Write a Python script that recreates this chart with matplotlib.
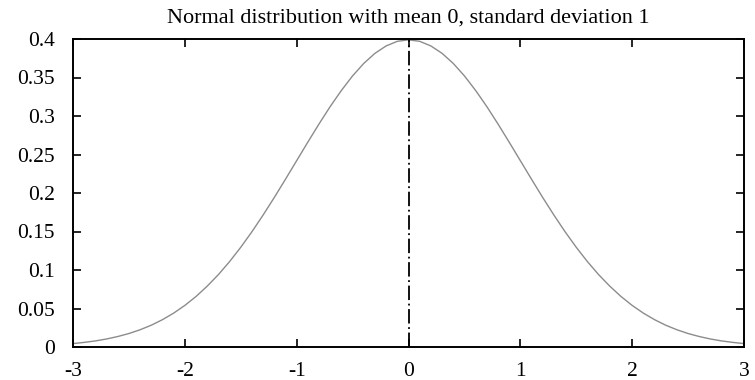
import matplotlib
matplotlib.use("Agg")
import matplotlib.pyplot as plt

# values (x step 0.1)
x_vals = [-3.0, -2.9, -2.8, -2.7, -2.6, -2.5, -2.4, -2.3, -2.2, -2.1, -2.0,
          -1.9, -1.8, -1.7, -1.6, -1.5, -1.4, -1.3, -1.2, -1.1, -1.0,
          -0.9, -0.8, -0.7, -0.6, -0.5, -0.4, -0.3, -0.2, -0.1, 0.0,
          0.1, 0.2, 0.3, 0.4, 0.5, 0.6, 0.7, 0.8, 0.9, 1.0,
          1.1, 1.2, 1.3, 1.4, 1.5, 1.6, 1.7, 1.8, 1.9, 2.0,
          2.1, 2.2, 2.3, 2.4, 2.5, 2.6, 2.7, 2.8, 2.9, 3.0]
density = [0.0044, 0.0060, 0.0079, 0.0104, 0.0136, 0.0175, 0.0224, 0.0283, 0.0355, 0.0440, 0.0540,
           0.0656, 0.0790, 0.0940, 0.1109, 0.1295, 0.1497, 0.1714, 0.1942, 0.2179, 0.2420,
           0.2661, 0.2897, 0.3123, 0.3332, 0.3521, 0.3683, 0.3814, 0.3910, 0.3970, 0.3989,
           0.3970, 0.3910, 0.3814, 0.3683, 0.3521, 0.3332, 0.3123, 0.2897, 0.2661, 0.2420,
           0.2179, 0.1942, 0.1714, 0.1497, 0.1295, 0.1109, 0.0940, 0.0790, 0.0656, 0.0540,
           0.0440, 0.0355, 0.0283, 0.0224, 0.0175, 0.0136, 0.0104, 0.0079, 0.0060, 0.0044]
mean_x = [0.0, 0.0]
mean_y = [0.0, 0.399]
x_ticks = [-3, -2, -1, 0, 1, 2, 3]
y_ticks = [0, 0.05, 0.1, 0.15, 0.2, 0.25, 0.3, 0.35, 0.4]
y_tick_labels = ["0", "0.05", "0.1", "0.15", "0.2", "0.25", "0.3", "0.35", "0.4"]
title = "Normal distribution with mean 0, standard deviation 1"

plt.rcParams['font.family'] = ['Liberation Serif', 'DejaVu Serif']

fig = plt.figure(figsize=(7.55, 3.8), dpi=100)
ax = fig.add_axes([73/755, 33/380, (744-73)/755, (347-39)/380])

ax.plot(x_vals, density, color="#8c8c8c", linewidth=1.0)
ax.plot(mean_x, mean_y, color="black", linewidth=1.3, linestyle=(0, (8, 2, 1, 2)))

ax.set_xlim(-3, 3)
ax.set_ylim(0, 0.4)
ax.set_xticks(x_ticks)
ax.set_xticklabels([str(t) for t in x_ticks])
ax.set_yticks(y_ticks)
ax.set_yticklabels(y_tick_labels)
ax.tick_params(direction="in", length=6, width=1.2, labelsize=15.5,
               top=True, right=True)
ax.tick_params(axis="y", pad=13)
ax.tick_params(axis="x", pad=11)
for s in ax.spines.values():
    s.set_linewidth(1.4)
ax.set_title(title, fontsize=16, pad=12)

fig.savefig("out.png", dpi=100)
